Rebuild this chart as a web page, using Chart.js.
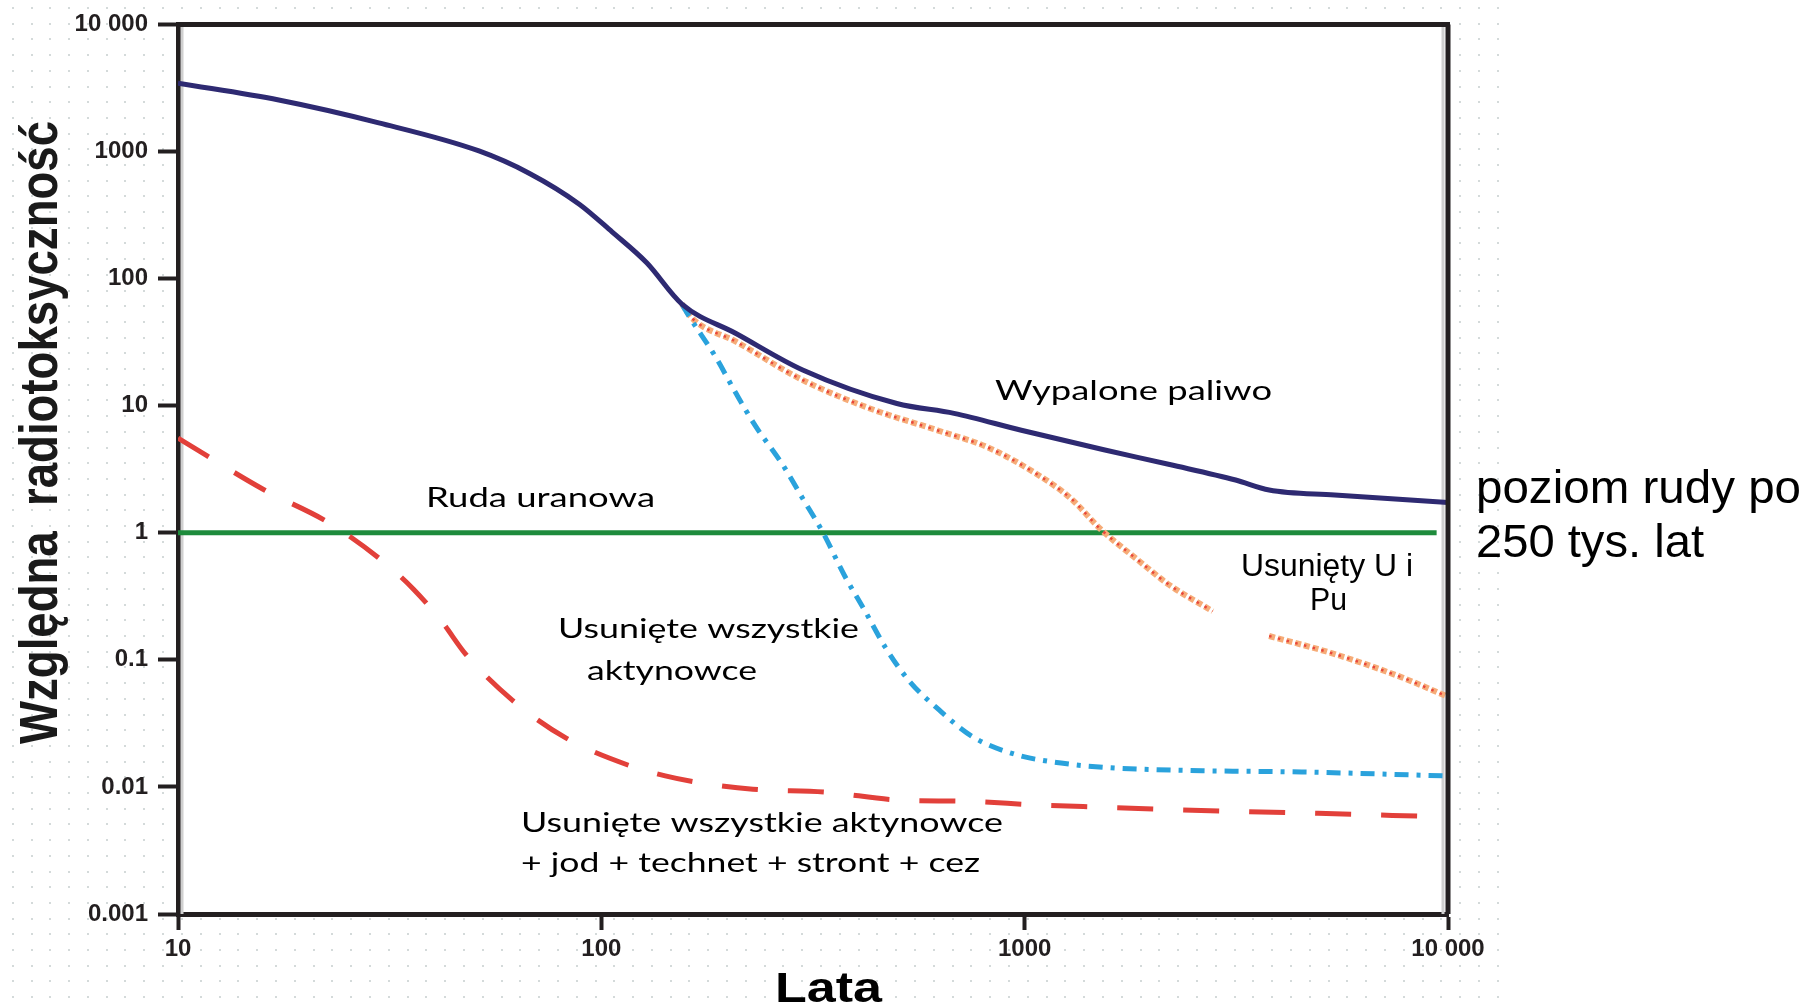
<!DOCTYPE html>
<html>
<head>
<meta charset="utf-8">
<script src="https://cdn.jsdelivr.net/npm/chart.js@4.4.1/dist/chart.umd.min.js"></script>
<style>
  html, body { margin: 0; padding: 0; background: #fff; overflow: hidden; }
  #wrap { position: relative; width: 1808px; height: 1007px; }
</style>
</head>
<body>
<div id="wrap"><canvas id="chart"></canvas></div>
<script>
// axes
const xTicks = [10, 100, 1000, 10000];
const xTickLabels = ["10", "100", "1000", "10 000"];
const yTicks = [0.001, 0.01, 0.1, 1, 10, 100, 1000, 10000];
const yTickLabels = ["0.001", "0.01", "0.1", "1", "10", "100", "1000", "10 000"];

// Wypalone paliwo
const spentFuelYears = [10, 17.3, 29.8, 51.4, 67.5, 88.7, 106, 128, 155, 208, 299, 499, 681, 982, 1538, 2200, 3150, 3780, 5400, 10000];
const spentFuelValues = [3450, 2540, 1680, 1010, 675, 385, 233, 133, 63, 37, 19.1, 10.4, 8.7, 6.4, 4.5, 3.44, 2.6, 2.17, 1.98, 1.73];

// Ruda uranowa
const oreYears = [10, 9400];
const oreValues = [1, 1];

// Usunięty U i Pu (null = przerwa pod podpisem)
const puRemovedYears = [155, 164, 208, 299, 431, 622, 819, 1074, 1286, 1510, 1840, 2200, 2780, 3250, 3780, 5400, 7750, 10000];
const puRemovedValues = [63, 48.6, 31.9, 15.9, 9.5, 6.4, 4.69, 2.86, 1.86, 1.07, 0.62, 0.387, 0.241, null, 0.154, 0.111, 0.0731, 0.0512];

// Usunięte wszystkie aktynowce
const actinidesYears = [155, 161.5, 186, 208, 232, 268, 299, 334, 375, 420, 469, 532, 628, 754, 957, 1219, 1566, 2014, 2630, 4510, 10000];
const actinidesValues = [63, 50, 24.3, 12.5, 6.8, 3.44, 1.86, 1.0, 0.463, 0.241, 0.125, 0.069, 0.0403, 0.0248, 0.0179, 0.0154, 0.0142, 0.0137, 0.0134, 0.0131, 0.0122];

// Usunięte wszystkie aktynowce + jod + technet + stront + cez
const allRemovedYears = [10, 16, 22.6, 30.3, 36, 42, 47.8, 61.6, 82.4, 116.6, 141.6, 170, 228, 340, 499, 733, 1074, 1592, 2320, 4930, 10000];
const allRemovedValues = [5.56, 2.17, 1.21, 0.605, 0.36, 0.2, 0.111, 0.0482, 0.0243, 0.0147, 0.0122, 0.0108, 0.0096, 0.0091, 0.0079, 0.0077, 0.0072, 0.0069, 0.0066, 0.0062, 0.0058];

const toPoints = (xs, ys) => xs.map((x, i) => ({ x: x, y: ys[i] }));

// text drawn stretched to the width it has in the picture
const labels = [
  { text: "Wypalone paliwo", x: 995, y: 400, w: 277, font: "27px Lato" },
  { text: "Ruda uranowa", x: 426, y: 507, w: 229, font: "27px Lato" },
  { text: "Usunięte wszystkie", x: 558, y: 638, w: 301, font: "27px Lato" },
  { text: "aktynowce", x: 587, y: 680, w: 170, font: "27px Lato" },
  { text: "Usunięte wszystkie aktynowce", x: 521, y: 832, w: 482, font: "27px Lato" },
  { text: "+ jod + technet + stront + cez", x: 521, y: 872, w: 459, font: "27px Lato" },
  { text: "Usunięty U i", x: 1241, y: 576, w: 172, font: "31px 'Liberation Sans'" },
  { text: "Pu", x: 1310, y: 610, w: 37, font: "31px 'Liberation Sans'" },
  { text: "poziom rudy po", x: 1476, y: 503, w: 325, font: "46px 'Liberation Sans'" },
  { text: "250 tys. lat", x: 1476, y: 557, w: 228, font: "46px 'Liberation Sans'" },
  { text: "Lata", x: 775, y: 1002, w: 107, font: "bold 42px 'Liberation Sans'" }
];

function drawFit(ctx, text, x, y, w, font, sy) {
  ctx.font = font;
  const m = ctx.measureText(text).width;
  ctx.save();
  ctx.translate(x, y);
  ctx.scale(w / m, sy || 1);
  ctx.fillText(text, 0, 0);
  ctx.restore();
}

const decorPlugin = {
  id: "decor",
  beforeDraw(chart) {
    const { ctx, chartArea: a } = chart;
    ctx.save();
    ctx.fillStyle = "#fff";
    ctx.fillRect(0, 0, chart.width, chart.height);
    // dotted backdrop
    ctx.fillStyle = "#d4dada";
    for (let x = 11.7; x < 1505; x += 18.8) {
      for (let y = 7; y < chart.height; y += 15.7) {
        ctx.fillRect(Math.round(x), Math.round(y), 2, 2);
      }
    }
    ctx.fillStyle = "#fff";
    ctx.fillRect(a.left, a.top, a.right - a.left, a.bottom - a.top);
    ctx.restore();
  },
  beforeDatasetsDraw(chart) {
    const { ctx, chartArea: a } = chart;
    ctx.save();
    ctx.strokeStyle = "#cfcfcf";
    ctx.lineWidth = 3;
    ctx.beginPath();
    ctx.moveTo(a.left + 4, a.top);
    ctx.lineTo(a.left + 4, a.bottom);
    ctx.moveTo(a.right - 5, a.top);
    ctx.lineTo(a.right - 5, a.bottom);
    ctx.stroke();
    ctx.restore();
  },
  afterDatasetsDraw(chart) {
    const { ctx, chartArea: a } = chart;
    ctx.save();
    ctx.strokeStyle = "#231f20";
    ctx.lineWidth = 5;
    ctx.beginPath();
    ctx.moveTo(a.left - 2, a.top);
    ctx.lineTo(a.right + 2, a.top);
    ctx.moveTo(a.right, a.top);
    ctx.lineTo(a.right, a.bottom);
    ctx.stroke();
    ctx.restore();
  },
  afterDraw(chart) {
    const ctx = chart.ctx;
    ctx.save();
    ctx.fillStyle = "#000";
    ctx.textAlign = "left";
    ctx.textBaseline = "alphabetic";
    labels.forEach(l => drawFit(ctx, l.text, l.x, l.y, l.w, l.font));

    // y axis title
    ctx.fillStyle = "#1a1a1a";
    ctx.translate(57, 744);
    ctx.rotate(-Math.PI / 2);
    drawFit(ctx, "Względna  radiotoksyczność", 0, 0, 623, "bold 48px 'Liberation Sans'", 1.12);
    ctx.restore();
  }
};

const tickFont = { family: "'Liberation Sans', Arial, sans-serif", size: 24, weight: "bold" };

new Chart(document.getElementById("chart"), {
  type: "line",
  data: {
    datasets: [
      {
        data: toPoints(spentFuelYears, spentFuelValues),
        borderColor: "#2e2a72",
        borderWidth: 5,
        order: 0
      },
      {
        data: toPoints(actinidesYears, actinidesValues),
        borderColor: "#2aa2dc",
        borderWidth: 5,
        borderDash: [14, 8, 4, 8],
        order: 1
      },
      {
        data: toPoints(puRemovedYears, puRemovedValues),
        borderColor: "#e8473c",
        borderWidth: 2.5,
        borderDash: [2.5, 6.5],
        order: 2
      },
      {
        data: toPoints(puRemovedYears, puRemovedValues),
        borderColor: "#f6ac78",
        borderWidth: 6,
        borderDash: [6, 3],
        order: 3
      },
      {
        data: toPoints(allRemovedYears, allRemovedValues),
        borderColor: "#e2403a",
        borderWidth: 5,
        borderDash: [36, 30],
        order: 4
      },
      {
        data: toPoints(oreYears, oreValues),
        borderColor: "#1e8b3c",
        borderWidth: 5,
        order: 5
      }
    ]
  },
  options: {
    responsive: true,
    maintainAspectRatio: false,
    animation: false,
    spanGaps: false,
    layout: { padding: { top: 17, right: 360, left: 0, bottom: 0 } },
    elements: {
      point: { radius: 0 },
      line: { cubicInterpolationMode: "monotone", borderCapStyle: "butt" }
    },
    plugins: {
      legend: { display: false },
      tooltip: { enabled: false }
    },
    scales: {
      x: {
        type: "logarithmic",
        min: 10,
        max: 10000,
        afterBuildTicks: scale => { scale.ticks = xTicks.map(v => ({ value: v })); },
        afterFit: scale => { scale.height = 93; },
        ticks: {
          autoSkip: false,
          maxRotation: 0,
          padding: 5,
          color: "#231f20",
          font: tickFont,
          callback: (v, i) => xTickLabels[i]
        },
        grid: { drawOnChartArea: false, drawTicks: true, tickLength: 16, tickWidth: 4, tickColor: "#231f20" },
        border: { display: true, width: 5, color: "#231f20" }
      },
      y: {
        type: "logarithmic",
        min: 0.001,
        max: 10000,
        afterBuildTicks: scale => { scale.ticks = yTicks.map(v => ({ value: v })); },
        afterFit: scale => { scale.width = 178; },
        ticks: {
          autoSkip: false,
          padding: 10,
          color: "#231f20",
          font: tickFont,
          callback: (v, i) => yTickLabels[i]
        },
        grid: { drawOnChartArea: false, drawTicks: true, tickLength: 20, tickWidth: 4, tickColor: "#231f20" },
        border: { display: true, width: 5, color: "#231f20" }
      }
    }
  },
  plugins: [decorPlugin]
});
</script>
</body>
</html>
